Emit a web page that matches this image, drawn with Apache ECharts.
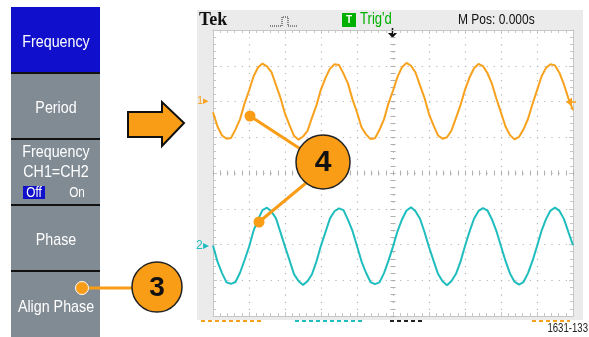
<!DOCTYPE html>
<html lang="en">
<head>
<meta charset="UTF-8">
<title>Align Phase</title>
<script src="https://cdn.jsdelivr.net/npm/echarts@6/dist/echarts.min.js"></script>
<style>
  body { margin: 0; background: #fff; }
  #main { width: 589px; height: 337px; }
</style>
</head>
<body>
<div id="main"></div>
<script type="text/javascript">
// graticule: 10 x 8 divisions, traces sampled every 1/8 division
var sampleStep = 0.125;
var xDivs = [0, 10];
var yDivs = [-4, 4];

// CH1 (orange), volts in divisions
var ch1 = [
  1.70, 1.30, 1.05, 0.96, 0.98, 1.22, 1.50, 1.94, 2.30, 2.70, 2.95, 3.06, 2.98, 2.82, 2.46, 2.10,
  1.66, 1.34, 1.04, 0.93, 1.02, 1.18, 1.55, 1.90, 2.34, 2.66, 2.92, 3.04, 3.02, 2.78, 2.50, 2.06,
  1.70, 1.28, 1.08, 0.95, 0.97, 1.21, 1.50, 1.95, 2.30, 2.69, 2.96, 3.08, 3.00, 2.81, 2.45, 2.10,
  1.65, 1.33, 1.05, 0.96, 1.00, 1.19, 1.54, 1.90, 2.33, 2.67, 2.93, 3.05, 2.99, 2.79, 2.49, 2.07,
  1.69, 1.30, 1.06, 0.94, 1.01, 1.22, 1.51, 1.93, 2.31, 2.70, 2.94, 3.04, 3.01, 2.80, 2.47, 2.08,
  1.76
];
// CH2 (cyan)
var ch2 = [
  -2.03, -2.48, -2.80, -3.06, -3.10, -3.05, -2.79, -2.44, -2.07, -1.62, -1.30, -1.04, -0.97, -1.08, -1.27, -1.66,
  -2.06, -2.44, -2.83, -3.02, -3.13, -3.03, -2.83, -2.47, -2.03, -1.65, -1.27, -1.07, -0.99, -1.04, -1.31, -1.62,
  -2.04, -2.47, -2.79, -3.05, -3.11, -3.06, -2.80, -2.45, -2.06, -1.63, -1.30, -1.05, -0.96, -1.07, -1.28, -1.65,
  -2.07, -2.45, -2.82, -3.03, -3.14, -3.02, -2.82, -2.48, -2.04, -1.64, -1.28, -1.06, -0.98, -1.05, -1.30, -1.63,
  -2.05, -2.46, -2.81, -3.04, -3.12, -3.05, -2.80, -2.46, -2.05, -1.62, -1.29, -1.05, -0.97, -1.06, -1.29, -1.66,
  -2.02
];

var menuItems = ['Frequency', 'Period', '', 'Phase', 'Align Phase'];

var orange = '#f7a11d';
var cyan = '#1fbdbd';
var callout = '#f99c16';
var menuBlue = '#1010cc';
var menuGray = '#808b94';
var tickGray = '#c6c6c6';
var sans = "'Liberation Sans', Arial, sans-serif";

function toPairs(arr) {
  var out = [];
  for (var i = 0; i < arr.length; i++) out.push([i * sampleStep, arr[i]]);
  return out;
}

// narrow looking text: squeeze a normal sans horizontally
function narrowText(x, y, text, size, color, align, sx, z) {
  return {
    type: 'text', x: x, y: y, scaleX: sx || 0.84, z: z || 1,
    style: { x: 0, y: 0, text: text, align: align || 'center', verticalAlign: 'middle', fill: color, font: size + 'px ' + sans }
  };
}

// edge axes of the graticule (frame with ticks pointing inwards)
function edgeAxis(pos, range, split, dash) {
  return {
    type: 'value', gridIndex: 0, position: pos, min: range[0], max: range[1], interval: 1,
    axisLine: { show: true, onZero: false, lineStyle: { color: tickGray, width: 1 } },
    axisTick: { show: true, inside: true, length: 4, lineStyle: { color: tickGray } },
    minorTick: { show: true, splitNumber: 5, length: 3, lineStyle: { color: tickGray } },
    axisLabel: { show: false },
    splitLine: { show: split, lineStyle: { color: '#b4b4b4', width: 1.2, type: dash } }
  };
}
// centre cross of the graticule, ticks on both sides
function centreAxis(pos, range) {
  return {
    type: 'value', gridIndex: 1, position: pos, min: range[0], max: range[1], interval: 1,
    axisLine: { show: true, onZero: true, lineStyle: { opacity: 0 } },
    axisTick: { show: true, inside: true, length: 2.5, lineStyle: { color: '#b0b0b0' } },
    minorTick: { show: true, splitNumber: 5, length: 2.5, lineStyle: { color: '#b0b0b0' } },
    axisLabel: { show: false },
    splitLine: { show: false }
  };
}

var graphics = [];
// scope bezel
graphics.push({ type: 'rect', z: -5, shape: { x: 197, y: 10, width: 386, height: 310 }, style: { fill: '#ebebeb' } });
// menu buttons
var btnTop = [7, 74, 140, 206, 272];
for (var b = 0; b < 5; b++) {
  graphics.push({ type: 'rect', z: -5, shape: { x: 11, y: btnTop[b], width: 89, height: 66 }, style: { fill: b === 0 ? menuBlue : menuGray } });
  if (b > 0) graphics.push({ type: 'rect', z: -4, shape: { x: 11, y: btnTop[b] - 2, width: 89, height: 2 }, style: { fill: '#111' } });
}
graphics.push(narrowText(56, 42, menuItems[0], 17, '#fff'));
graphics.push(narrowText(56, 108, menuItems[1], 17, '#fff'));
graphics.push(narrowText(56, 152, 'Frequency', 17, '#fff'));
graphics.push(narrowText(56, 172, 'CH1=CH2', 17, '#fff'));
graphics.push({ type: 'rect', shape: { x: 23, y: 186, width: 22, height: 13 }, style: { fill: menuBlue } });
graphics.push(narrowText(34, 193, 'Off', 14, '#fff', 'center', 0.84, 2));
graphics.push(narrowText(77, 193, 'On', 14, '#fff'));
graphics.push(narrowText(56, 240, menuItems[3], 17, '#fff'));
graphics.push(narrowText(56, 307, menuItems[4], 17, '#fff'));

// header line
graphics.push({ type: 'text', style: { x: 199, y: 20, text: 'Tek', verticalAlign: 'middle', fill: '#111', font: "bold 18px 'Liberation Serif', serif" } });
graphics.push({ type: 'polyline', shape: { points: [[270, 26], [282, 26], [282, 17], [288, 17], [288, 26], [297, 26]] }, style: { stroke: '#222', lineWidth: 1, fill: null, lineDash: [1, 1] } });
graphics.push({ type: 'rect', shape: { x: 342, y: 13, width: 14, height: 14 }, style: { fill: '#00b000' } });
graphics.push({ type: 'text', style: { x: 349, y: 20.5, text: 'T', align: 'center', verticalAlign: 'middle', fill: '#fff', font: 'bold 10px sans-serif' } });
graphics.push(narrowText(360, 20, "Trig'd", 16, '#00b000', 'left', 0.82));
graphics.push(narrowText(458, 20, 'M Pos: 0.000s', 15, '#111', 'left', 0.8));

// trigger position and level markers
graphics.push({ type: 'line', shape: { x1: 392.5, y1: 28, x2: 392.5, y2: 34 }, style: { stroke: '#111', lineWidth: 1.5 } });
graphics.push({ type: 'polygon', shape: { points: [[388, 33], [397, 33], [392.5, 38]] }, style: { fill: '#111' } });
graphics.push({ type: 'polygon', z: 10, shape: { points: [[566, 102], [572, 97.5], [572, 106.5]] }, style: { fill: orange } });
graphics.push({ type: 'line', z: 10, shape: { x1: 570, y1: 102, x2: 576, y2: 102 }, style: { stroke: orange, lineWidth: 1.5 } });
graphics.push({ type: 'text', style: { x: 197, y: 101, text: '1\u25B8', verticalAlign: 'middle', fill: orange, font: '11px ' + sans } });
graphics.push({ type: 'text', style: { x: 196, y: 246, text: '2\u25B8', verticalAlign: 'middle', fill: cyan, font: '12px ' + sans } });

// cut-off readout row under the screen
var readout = [[201, 263, orange], [295, 365, cyan], [390, 425, '#222'], [532, 570, orange]];
readout.forEach(function (r) {
  graphics.push({ type: 'line', shape: { x1: r[0], y1: 321, x2: r[1], y2: 321 }, style: { stroke: r[2], lineWidth: 2, lineDash: [4, 3] } });
});
graphics.push(narrowText(588, 329, '1631-133', 12, '#222', 'right', 0.8));

// big orange arrow
graphics.push({ type: 'polygon', z: 20, shape: { points: [[128, 112], [162, 112], [162, 102], [184, 123], [162, 146], [162, 137], [128, 137]] }, style: { fill: callout, stroke: '#111', lineWidth: 2 } });

// callout 3
graphics.push({ type: 'line', z: 20, shape: { x1: 82, y1: 288, x2: 134, y2: 288 }, style: { stroke: callout, lineWidth: 3 } });
graphics.push({ type: 'circle', z: 21, shape: { cx: 82, cy: 288, r: 6.5 }, style: { fill: callout, stroke: '#fff', lineWidth: 1 } });
graphics.push({ type: 'circle', z: 21, shape: { cx: 157, cy: 287, r: 25 }, style: { fill: callout, stroke: '#222', lineWidth: 1.5 } });
graphics.push({ type: 'text', z: 22, style: { x: 157, y: 288, text: '3', align: 'center', verticalAlign: 'middle', fill: '#111', font: "bold 28px 'Liberation Sans', Arial, sans-serif" } });

// callout 4
graphics.push({ type: 'line', z: 20, shape: { x1: 250, y1: 116, x2: 302, y2: 150 }, style: { stroke: callout, lineWidth: 3 } });
graphics.push({ type: 'line', z: 20, shape: { x1: 259, y1: 222, x2: 306, y2: 183 }, style: { stroke: callout, lineWidth: 3 } });
graphics.push({ type: 'circle', z: 21, shape: { cx: 250, cy: 116, r: 5.5 }, style: { fill: callout } });
graphics.push({ type: 'circle', z: 21, shape: { cx: 259, cy: 222, r: 5.5 }, style: { fill: callout } });
graphics.push({ type: 'circle', z: 21, shape: { cx: 323, cy: 162, r: 27 }, style: { fill: callout, stroke: '#222', lineWidth: 1.5 } });
graphics.push({ type: 'text', z: 22, style: { x: 323, y: 163, text: '4', align: 'center', verticalAlign: 'middle', fill: '#111', font: "bold 30px 'Liberation Sans', Arial, sans-serif" } });

var myChart = echarts.init(document.getElementById('main'), null, { renderer: 'canvas' });
var option = {
  animation: false,
  backgroundColor: '#fff',
  grid: [
    { left: 213, top: 30, width: 360, height: 286, show: true, backgroundColor: '#fff', borderWidth: 0 },
    { left: 213, top: 30, width: 360, height: 286 }
  ],
  xAxis: [
    edgeAxis('bottom', xDivs, true, [1.2, 5.95]),
    edgeAxis('top', xDivs, false),
    centreAxis('bottom', [-5, 5]),
    centreAxis('top', [-5, 5])
  ],
  yAxis: [
    edgeAxis('left', yDivs, true, [1.2, 6.0]),
    edgeAxis('right', yDivs, false),
    centreAxis('left', yDivs),
    centreAxis('right', yDivs)
  ],
  series: [
    {
      name: 'CH1', type: 'line', xAxisIndex: 0, yAxisIndex: 0, data: toPairs(ch1),
      showSymbol: false, lineStyle: { color: orange, width: 2 }, z: 5
    },
    {
      name: 'CH2', type: 'line', xAxisIndex: 0, yAxisIndex: 0, data: toPairs(ch2),
      showSymbol: false, lineStyle: { color: cyan, width: 2 }, z: 5
    }
  ],
  graphic: { elements: graphics }
};
myChart.setOption(option);
</script>
</body>
</html>
